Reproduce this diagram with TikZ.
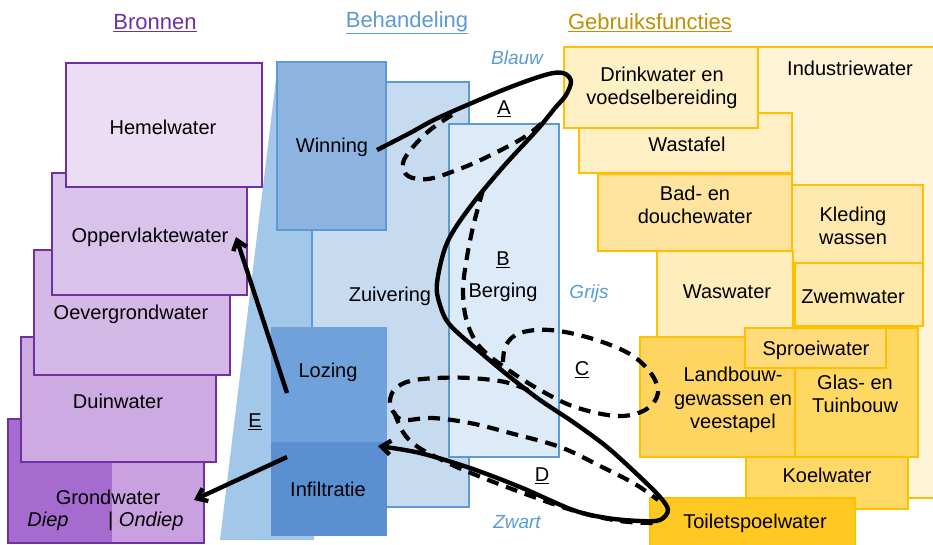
\documentclass[tikz,border=0pt]{standalone}
\usepackage{fontspec}
\setmainfont{Liberation Sans}
\usetikzlibrary{fit,arrows.meta}
\definecolor{purp}{HTML}{7030A0}
\definecolor{p1}{HTML}{EBDDF4}
\definecolor{p2}{HTML}{DAC3EB}
\definecolor{p3}{HTML}{D4B9E7}
\definecolor{p4}{HTML}{CDABE2}
\definecolor{p5L}{HTML}{A66BCF}
\definecolor{p5R}{HTML}{C9A1E1}
\definecolor{bblue}{HTML}{5B9BD5}
\definecolor{wedge}{HTML}{A3C7E9}
\definecolor{bwin}{HTML}{8DB4E1}
\definecolor{bzui}{HTML}{C6DBF0}
\definecolor{bber}{HTML}{DDEAF7}
\definecolor{bloz}{HTML}{6FA1DA}
\definecolor{binf}{HTML}{5A90D2}
\definecolor{ygold}{HTML}{FFC000}
\definecolor{hgold}{HTML}{BF9000}
\definecolor{yind}{HTML}{FFF4D8}
\definecolor{ydri}{HTML}{FFF0C6}
\definecolor{ywas}{HTML}{FFEFC4}
\definecolor{ybad}{HTML}{FFE49F}
\definecolor{ykle}{HTML}{FFE9AE}
\definecolor{ywsw}{HTML}{FFEDBB}
\definecolor{yzwe}{HTML}{FFE8A8}
\definecolor{yspr}{HTML}{FFDB7C}
\definecolor{ylan}{HTML}{FFD561}
\definecolor{ygla}{HTML}{FFD862}
\definecolor{ykoe}{HTML}{FFD865}
\definecolor{ytoi}{HTML}{FFC823}
\tikzset{
  box/.style={inner sep=0pt, outer sep=0pt},
  pbox/.style={box, draw=purp, line width=2.2pt},
  bbox/.style={box, draw=bblue, line width=1.6pt},
  nbox/.style={box},
  ybox/.style={box, draw=ygold, line width=2pt},
  txt/.style={inner sep=0pt, align=center, font=\fontsize{20}{23.5}\selectfont},
  hdr/.style={inner sep=0pt, font=\fontsize{22}{26}\selectfont},
  blbl/.style={inner sep=0pt, text=bblue, font=\fontsize{19}{22}\selectfont\itshape},
  flow/.style={line width=4.4pt, black},
  dflow/.style={line width=4.2pt, black, dash pattern=on 12pt off 8pt},
  arrtip/.style={-{Straight Barb[length=9pt,width=14pt]}},
}
\begin{document}
\begin{tikzpicture}[x=1pt,y=-1pt]
\clip (0,0) rectangle (933,545);
\fill[white] (0,0) rectangle (933,545);

% headers
\node[hdr, text=purp] (hB) at (155,23) {\underline{Bronnen}};
\node[hdr, text=bblue] (hH) at (407,23) {\underline{Behandeling}};
\node[hdr, text=hgold] (hG) at (650,23) {\underline{Gebruiksfuncties}};

% blue wedge
\fill[wedge] (278,63) -- (314,63) -- (314,540) -- (220,540) -- cycle;

% purple stack (bottom first)
\node[box, fill=p5R, fit={(8,419) (204,543)}] (grond) {};
\fill[p5L] (8,419) rectangle (112,543);
\draw[purp, line width=2.2pt] (grond.north west) rectangle (grond.south east);
\node[pbox, fill=p4, fit={(21,337) (216,462)}] (duin) {};
\node[pbox, fill=p3, fit={(34,250) (230,375)}] (oever) {};
\node[pbox, fill=p2, fit={(52,173) (247,295)}] (opp) {};
\node[pbox, fill=p1, fit={(66,63) (262,187)}] (hemel) {};

\node[txt] (tHemel) at (163,127) {Hemelwater};
\node[txt] (tOpp) at (150,237) {Oppervlaktewater};
\node[txt] (tOever) at (131,314) {Oevergrondwater};
\node[txt] (tDuin) at (118,401) {Duinwater};
\node[txt] (tGrond) at (108,497) {Grondwater};
\node[txt, font=\fontsize{20}{23}\selectfont\itshape] (tDiep) at (48,521) {Diep};
\node[txt, anchor=west] (tOndiep) at (108,521) {| \textit{Ondiep}};

% blue boxes
\node[bbox, fill=bzui, fit={(312,82) (469,507)}] (zui) {};
\node[bbox, fill=bwin, fit={(277,62) (386,230)}] (win) {};
\node[bbox, fill=bber, fit={(449,124) (559,457)}] (ber) {};
\node[nbox, fill=bloz, fit={(271,327) (387,442)}] (loz) {};
\node[nbox, fill=binf, fit={(271,442) (387,536)}] (inf) {};

\node[txt] (tWin) at (332,147) {Winning};
\node[txt] (tZui) at (390,296) {Zuivering};
\node[txt] (tBer) at (503,292) {Berging};
\node[txt] (tLoz) at (328,372) {Lozing};
\node[txt] (tInf) at (328,489) {Infiltratie};

% yellow boxes
\node[ybox, fill=yind, fit={(758,47) (950,498)}] (ind) {};
\node[ybox, fill=ywas, fit={(579,113) (792,173)}] (wast) {};
\node[ybox, fill=ydri, fit={(564,47) (758,128)}] (drink) {};
\node[ybox, fill=ykle, fit={(783,185) (923,263)}] (kled) {};
\node[ybox, fill=ybad, fit={(598,174) (792,251)}] (bad) {};
\node[ybox, fill=yzwe, fit={(795,263) (923,326)}] (zwem) {};
\node[ybox, fill=ygla, fit={(795,328) (918,457)}] (glas) {};
\node[ybox, fill=ylan, fit={(640,337) (795,457)}] (land) {};
\node[ybox, fill=ywsw, fit={(657,251) (793,337)}] (wasw) {};
\node[ybox, fill=yspr, fit={(745,328) (886,368)}] (spro) {};
\node[ybox, fill=ykoe, fit={(746,457) (908,509)}] (koel) {};
\node[ybox, fill=ytoi, fit={(650,498) (855,552)}] (toil) {};

\node[txt] (tInd) at (850,68) {Industriewater};
\node[txt] (tDri) at (662,88) {Drinkwater en\\voedselbereiding};
\node[txt] (tWas) at (687,144) {Wastafel};
\node[txt] (tBad) at (695,205) {Bad- en\\douchewater};
\node[txt] (tKle) at (853,226) {Kleding\\wassen};
\node[txt] (tWsw) at (727,292) {Waswater};
\node[txt] (tZwe) at (853,297) {Zwemwater};
\node[txt] (tSpr) at (816,350) {Sproeiwater};
\node[txt] (tLan) at (733,400) {Landbouw-\\gewassen en\\veestapel};
\node[txt] (tGla) at (855,394) {Glas- en\\Tuinbouw};
\node[txt] (tKoe) at (827,475) {Koelwater};
\node[txt] (tToi) at (755,523) {Toiletspoelwater};

% blue italic labels
\node[blbl] (lBlauw) at (517,58) {Blauw};
\node[blbl] (lGrijs) at (589,294) {Grijs};
\node[blbl] (lZwart) at (517,522) {Zwart};

% letter labels
\node[txt] (lA) at (504,109) {\underline{A}};
\node[txt] (lB) at (503,260) {\underline{B}};
\node[txt] (lC) at (582,370) {\underline{C}};
\node[txt] (lD) at (542,476) {\underline{D}};
\node[txt] (lE) at (255,422) {\underline{E}};

% connector end points
\coordinate (wout) at (377,150);
\coordinate (lozin) at (378,446);
\coordinate (lozE) at (287,393);
\coordinate (oppE) at (236,237);
\coordinate (infE) at (287,457);
\coordinate (groE) at (194,500);

% dashed loops
\draw[dflow] plot[smooth, tension=0.6] coordinates {(452,115) (430,130) (413,147) (403,163) (408,176) (428,179) (457,170) (487,157) (523,138) (542,123)};
\draw[dflow] plot[smooth, tension=0.6] coordinates {(483,190) (473,227) (466,263) (463,292) (467,322) (480,347) (507,369) (540,390) (575,407) (617,416) (645,410) (658,393) (650,372) (628,353) (590,338) (550,330) (520,333) (506,345) (503,362)};
\draw[dflow] plot[smooth, tension=0.6] coordinates {(528,390) (505,382) (470,378) (437,378) (410,381) (395,389) (390,401) (394,413) (404,420) (432,418) (470,423) (510,433) (560,447) (600,466) (635,484) (658,500)};
\draw[dflow] plot[smooth, tension=0.6] coordinates {(394,412) (403,432) (415,445) (436,457) (466,471) (520,492) (575,511) (620,521) (655,523)};

% solid main curve
\draw[flow, arrtip] plot[smooth, tension=0.55] coordinates {(wout) (410,133) (440,117) (503,90) (545,75) (563,73) (571,81) (566,95) (555,108) (537,130) (503,167) (470,207) (447,243) (437,283) (440,305) (450,325) (480,352) (510,377) (540,400) (573,422) (607,447) (640,477) (660,497) (668,510) (660,520) (640,521) (607,518) (573,510) (520,487) (470,468) (420,453) (lozin)};

% E arrows
\draw[flow, arrtip] (lozE) -- (oppE);
\draw[flow, arrtip] (infE) -- (groE);
\end{tikzpicture}
\end{document}
